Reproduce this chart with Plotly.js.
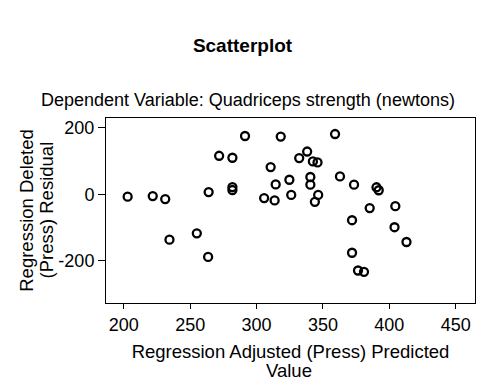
<!DOCTYPE html>
<html>
<head>
<meta charset="utf-8">
<script src="https://cdn.plot.ly/plotly-3.0.1.min.js"></script>
<style>html,body{margin:0;padding:0;background:#fff;}#chart{width:485px;height:387px;}</style>
</head>
<body>
<div id="chart"></div>
<script>
// Regression adjusted (press) predicted value
const predicted = [202.9, 221.8, 231.2, 234.4, 255.0, 263.5, 263.9, 271.8, 281.8, 281.8,
  281.8, 291.3, 305.7, 310.6, 314.4, 313.6, 318.2, 324.7, 326.1, 332.1,
  338.1, 340.5, 340.5, 342.4, 345.9, 346.4, 343.9, 359.1, 362.8, 373.4,
  371.9, 371.9, 376.4, 380.9, 385.2, 390.3, 392.0, 404.5, 403.9, 412.9];
// Regression deleted (press) residual
const residual = [-7.5, -5.4, -14.5, -137, -118, -189, 6.6, 116, 110, 21.7,
  12.7, 175.6, -11.5, 82, 29.6, -18.7, 174, 43.7, -2, 109,
  128.8, 52, 28.7, 99, 96, -2, -23, 181.6, 53.7, 28.7,
  -78.4, -176.5, -230, -234, -41.6, 21, 12, -36, -99.5, -144];
const xTicks = [200, 250, 300, 350, 400, 450];
const yTicks = [-200, 0, 200];

const FONT = 'Liberation Sans, Arial, sans-serif';

const trace = {
  x: predicted,
  y: residual,
  type: 'scatter',
  mode: 'markers',
  marker: {symbol: 'circle-open', size: 8, color: '#000', line: {color: '#000', width: 2.3}},
  hoverinfo: 'x+y'
};

const layout = {
  width: 485, height: 387,
  paper_bgcolor: '#fff', plot_bgcolor: '#fff',
  margin: {l: 105.5, r: 9.5, t: 118.3, b: 83.7, pad: 0},
  font: {family: FONT, color: '#000', size: 18},
  showlegend: false,
  title: {text: '<b>Scatterplot</b>', x: 0.5, xanchor: 'center', xref: 'container', y: 1 - 45 / 387, yanchor: 'middle', font: {family: FONT, size: 19, color: '#000'}},
  xaxis: {
    range: [186.6, 464.5], tickvals: xTicks, ticktext: xTicks.map(String),
    showline: true, mirror: true, linecolor: '#000', linewidth: 1,
    ticks: 'outside', ticklen: 5, tickwidth: 1, tickcolor: '#000',
    showgrid: false, zeroline: false,
    tickfont: {family: FONT, size: 18, color: '#000'},
    title: {text: 'Regression Adjusted (Press) Predicted', font: {family: FONT, size: 18.5, color: '#000'}, standoff: 11}
  },
  yaxis: {
    range: [-328, 229.9], tickvals: yTicks, ticktext: yTicks.map(String),
    showline: true, mirror: true, linecolor: '#000', linewidth: 1,
    ticks: 'outside', ticklen: 7, tickwidth: 1, tickcolor: '#000',
    showgrid: false, zeroline: false,
    tickfont: {family: FONT, size: 18, color: '#000'},
    title: {text: 'Regression Deleted', font: {family: FONT, size: 18.5, color: '#000'}, standoff: 19}
  },
  annotations: [
    {text: 'Dependent Variable: Quadriceps strength (newtons)', xref: 'paper', yref: 'paper', x: (248 - 105.5) / 370, y: 1, xanchor: 'center', yanchor: 'middle', yshift: 18.5, showarrow: false, font: {family: FONT, size: 18, color: '#000'}},
    {text: 'Value', xref: 'paper', yref: 'paper', x: 0.5, y: 0, xanchor: 'center', yanchor: 'middle', yshift: -67.5, xshift: -2, showarrow: false, font: {family: FONT, size: 18.5, color: '#000'}},
    {text: '(Press) Residual', xref: 'paper', yref: 'paper', x: 0, y: 0.5, xanchor: 'center', yanchor: 'middle', xshift: -60, textangle: -90, showarrow: false, font: {family: FONT, size: 18.5, color: '#000'}}
  ]
};

Plotly.newPlot('chart', [trace], layout, {displayModeBar: false, staticPlot: true});
</script>
</body>
</html>
